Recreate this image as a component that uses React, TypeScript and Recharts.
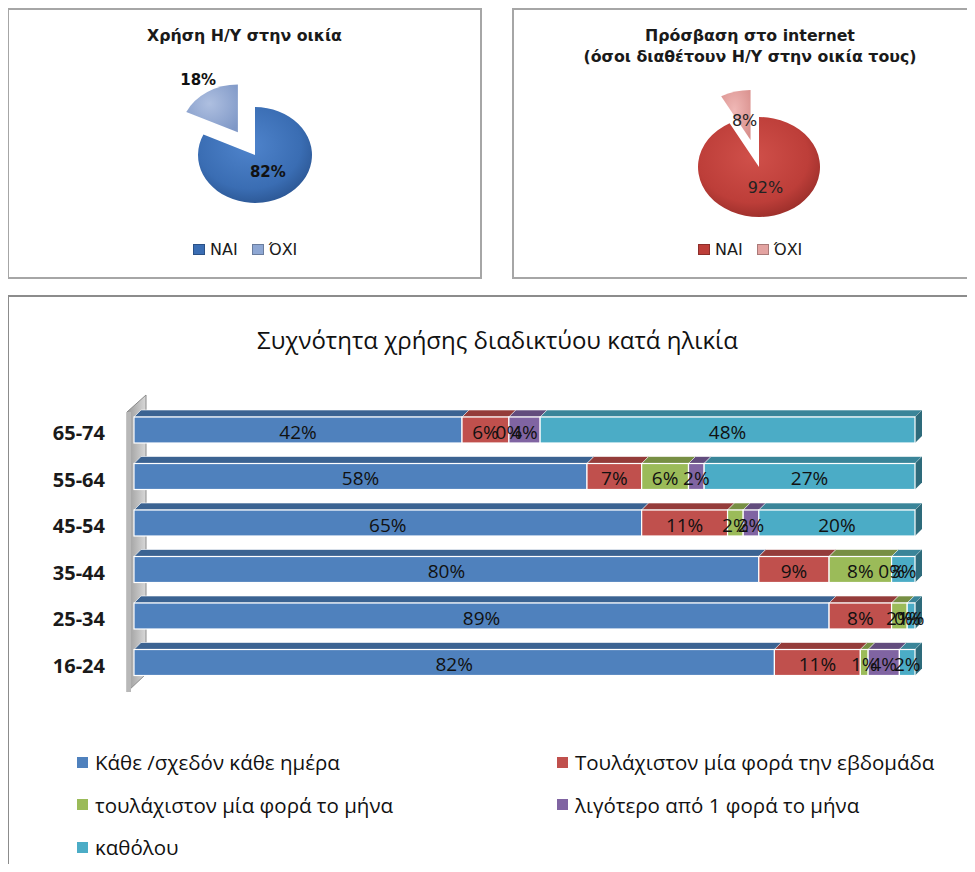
import React from 'react';
import * as R from 'recharts';
import { PieChart, Pie, Cell, BarChart, Bar, XAxis, YAxis, LabelList, Sector } from 'recharts';

// ---------- data ----------
const pieLabels = ['ΝΑΙ', 'ΌΧΙ'];
const pcUseValues = [82, 18];
const netAccessValues = [92, 8];

const ageGroups = ['65-74', '55-64', '45-54', '35-44', '25-34', '16-24'];
const dailyValues = [42, 58, 65, 80, 89, 82];
const weeklyValues = [6, 7, 11, 9, 8, 11];
const monthlyValues = [0, 6, 2, 8, 2, 1];
const lessMonthlyValues = [4, 2, 2, 0, 0, 4];
const neverValues = [48, 27, 20, 3, 1, 2];
const seriesNames = [
  'Κάθε /σχεδόν κάθε ημέρα',
  'Τουλάχιστον μία φορά την εβδομάδα',
  'τουλάχιστον μία φορά το μήνα',
  'λιγότερο από 1 φορά το μήνα',
  'καθόλου',
];

// ---------- derived tables ----------
const pcUseData = pieLabels.map((name, i) => ({ name, value: pcUseValues[i] }));
const netData = pieLabels.map((name, i) => ({ name, value: netAccessValues[i] }));
const seriesKeys = ['daily', 'weekly', 'monthly', 'less', 'never'];
const seriesValues = [dailyValues, weeklyValues, monthlyValues, lessMonthlyValues, neverValues];
const barData = ageGroups.map((age, i) => {
  const row: any = { age };
  seriesKeys.forEach((k, j) => (row[k] = seriesValues[j][i]));
  return row;
});

// ---------- styles ----------
const barColors = [
  { front: '#4f81bd', top: '#3b6392', side: '#2f5077' },
  { front: '#c0504d', top: '#943c3a', side: '#7a302e' },
  { front: '#9bbb59', top: '#778f44', side: '#5f7336' },
  { front: '#8064a2', top: '#624c7d', side: '#4e3d64' },
  { front: '#4bacc6', top: '#3a8599', side: '#2e6b7b' },
];

const usePA: any = (R as any).usePlotArea;

const Wall = () => {
  const plot = usePA ? usePA() : null;
  if (!plot) return null;
  const { x, y, height } = plot;
  const t = 7;
  const d = 12;
  return (
    <g>
      <defs>
        <linearGradient id="wallGrad" x1="0" y1="0" x2="1" y2="0">
          <stop offset="0%" stopColor="#9a9a9a" />
          <stop offset="100%" stopColor="#d8d8d8" />
        </linearGradient>
      </defs>
      <polygon
        points={`${x - t},${y + 5} ${x + d},${y - 12} ${x + d},${y + height - 12} ${x - t},${y + height + 6}`}
        fill="url(#wallGrad)"
        stroke="#8a8a8a"
        strokeWidth={1}
      />
      <rect x={x - t} y={y + 5} width={4} height={height + 1} fill="#b8b8b8" />
    </g>
  );
};

const make3DBar = (c: { front: string; top: string; side: string }) => (props: any) => {
  const { x, y, width, height } = props;
  if (!width || width <= 0.01) return <g />;
  const d = 7;
  return (
    <g>
      <polygon
        points={`${x},${y} ${x + d},${y - d} ${x + width + d},${y - d} ${x + width},${y}`}
        fill={c.top}
        stroke="#ffffff"
        strokeWidth={0.6}
      />
      <polygon
        points={`${x + width},${y} ${x + width + d},${y - d} ${x + width + d},${y + height - d} ${x + width},${y + height}`}
        fill={c.side}
      />
      <rect x={x} y={y} width={width} height={height} fill={c.front} stroke="#ffffff" strokeWidth={1.2} />
    </g>
  );
};

const AgeTick = (props: any) => {
  const { x, y, payload } = props;
  return (
    <text
      x={x}
      y={y}
      dy={10}
      textAnchor="end"
      fontFamily="'Open Sans', sans-serif"
      fontWeight={700}
      fontSize={20}
      fill="#1a1a1a"
    >
      {payload.value}
    </text>
  );
};

const RAD = Math.PI / 180;

const makePieShape = (scaleY: number, explodeName: string, dist: number) => (props: any) => {
  const { cx, cy, midAngle } = props;
  const name = props.name ?? props.payload?.name;
  const ex = name === explodeName ? dist : 0;
  const dx = ex * Math.cos(-midAngle * RAD);
  const dy = ex * Math.sin(-midAngle * RAD) * scaleY;
  return (
    <g transform={`translate(${dx},${dy}) translate(${cx},${cy}) scale(1,${scaleY}) translate(${-cx},${-cy})`}>
      <Sector {...props} />
    </g>
  );
};

const makePieLabel =
  (scaleY: number, explodeName: string, dist: number, rIn: number, rOut: number, style: any) =>
  (props: any) => {
    const { cx, cy, midAngle, value, name } = props;
    const isEx = name === explodeName;
    const ex = isEx ? dist : 0;
    const r = (isEx ? rOut : rIn) + ex;
    const x = cx + r * Math.cos(-midAngle * RAD);
    const y = cy + r * Math.sin(-midAngle * RAD) * scaleY;
    return (
      <text x={x} y={y} textAnchor="middle" dominantBaseline="central" {...style}>
        {`${value}%`}
      </text>
    );
  };

const pieTitleStyle: React.CSSProperties = {
  position: 'absolute',
  fontFamily: "'DejaVu Sans', sans-serif",
  fontWeight: 700,
  fontSize: 15.8,
  color: '#1a1a1a',
  textAlign: 'center',
  lineHeight: '21px',
  whiteSpace: 'nowrap',
};

const PieLegend = ({ left, colors }: { left: number; colors: string[] }) => (
  <div
    style={{
      position: 'absolute',
      left,
      top: 232,
      display: 'flex',
      alignItems: 'center',
      fontFamily: "'DejaVu Sans', sans-serif",
      fontSize: 16,
      color: '#1a1a1a',
      whiteSpace: 'nowrap',
    }}
  >
    {pieLabels.map((l, i) => (
      <span key={l} style={{ display: 'flex', alignItems: 'center', marginRight: 14 }}>
        <span
          style={{
            display: 'inline-block',
            width: 10,
            height: 9,
            background: colors[i],
            border: '1px solid rgba(0,0,0,0.25)',
            marginRight: 5,
          }}
        />
        {l}
      </span>
    ))}
  </div>
);

export default function App() {
  return (
    <div
      style={{
        position: 'relative',
        width: 967,
        height: 864,
        marginBottom: -8,
        overflow: 'hidden',
        background: '#ffffff',
      }}
    >
      {/* boxes */}
      <div style={{ position: 'absolute', left: -1, top: 0, width: 471, height: 267, border: '2px solid #a6a6a6' }} />
      <div style={{ position: 'absolute', left: 504, top: 0, width: 459, height: 267, border: '2px solid #a6a6a6' }} />
      <div style={{ position: 'absolute', left: -1, top: 287, width: 990, height: 600, border: '2px solid #8c8c8c' }} />

      {/* left pie */}
      <div style={{ ...pieTitleStyle, left: 0, width: 473, top: 17 }}>Χρήση Η/Υ στην οικία</div>
      <div style={{ position: 'absolute', left: 0, top: 0 }}>
        <PieChart width={480} height={269}>
          <defs>
            <radialGradient id="pcYes" cx="45%" cy="40%" r="65%">
              <stop offset="0%" stopColor="#4f84cc" />
              <stop offset="70%" stopColor="#3a6db3" />
              <stop offset="100%" stopColor="#2a5490" />
            </radialGradient>
            <radialGradient id="pcNo" cx="45%" cy="40%" r="70%">
              <stop offset="0%" stopColor="#aebfe0" />
              <stop offset="100%" stopColor="#7f98c7" />
            </radialGradient>
          </defs>
          <Pie
            data={pcUseData}
            dataKey="value"
            nameKey="name"
            cx={242}
            cy={142}
            outerRadius={57}
            startAngle={90}
            endAngle={-270}
            stroke="none"
            isAnimationActive={false}
            labelLine={false}
            shape={makePieShape(0.84, 'ΌΧΙ', 32)}
            label={makePieLabel(0.84, 'ΌΧΙ', 32, 24, 74, {
              fontFamily: "'DejaVu Sans', sans-serif",
              fontWeight: 700,
              fontSize: 15,
              fill: '#111',
            })}
          >
            <Cell fill="url(#pcYes)" />
            <Cell fill="url(#pcNo)" />
          </Pie>
        </PieChart>
      </div>
      <PieLegend left={185} colors={['#3a6db3', '#8ea7d3']} />

      {/* right pie */}
      <div style={{ ...pieTitleStyle, left: 505, width: 474, top: 17 }}>
        Πρόσβαση στο internet
        <br />
        (όσοι διαθέτουν Η/Υ στην οικία τους)
      </div>
      <div style={{ position: 'absolute', left: 505, top: 0 }}>
        <PieChart width={462} height={269}>
          <defs>
            <radialGradient id="netYes" cx="45%" cy="40%" r="65%">
              <stop offset="0%" stopColor="#d0504a" />
              <stop offset="70%" stopColor="#bd3e39" />
              <stop offset="100%" stopColor="#962c28" />
            </radialGradient>
            <radialGradient id="netNo" cx="45%" cy="40%" r="70%">
              <stop offset="0%" stopColor="#f0b8b6" />
              <stop offset="100%" stopColor="#d88f8c" />
            </radialGradient>
          </defs>
          <Pie
            data={netData}
            dataKey="value"
            nameKey="name"
            cx={241}
            cy={154}
            outerRadius={61}
            startAngle={90}
            endAngle={-270}
            stroke="none"
            isAnimationActive={false}
            labelLine={false}
            shape={makePieShape(0.82, 'ΌΧΙ', 34)}
            label={makePieLabel(0.82, 'ΌΧΙ', 34, 26, 24, {
              fontFamily: "'DejaVu Sans', sans-serif",
              fontSize: 16,
              fill: '#222',
            })}
          >
            <Cell fill="url(#netYes)" />
            <Cell fill="url(#netNo)" />
          </Pie>
        </PieChart>
      </div>
      <PieLegend left={690} colors={['#bd3e39', '#e3a3a1']} />

      {/* bar chart */}
      <div
        style={{
          position: 'absolute',
          left: 0,
          width: 979,
          top: 315,
          textAlign: 'center',
          fontFamily: "'Open Sans', sans-serif",
          fontSize: 24,
          color: '#111',
          whiteSpace: 'nowrap',
        }}
      >
        Συχνότητα χρήσης διαδικτύου κατά ηλικία
      </div>
      <div style={{ position: 'absolute', left: 0, top: 288 }}>
        <BarChart
          width={967}
          height={566}
          data={barData}
          layout="vertical"
          margin={{ top: 111, right: 60, bottom: 176, left: 66 }}
          barCategoryGap={0}
        >
          <Wall />
          <XAxis type="number" domain={[0, 100]} hide />
          <YAxis
            type="category"
            dataKey="age"
            width={60}
            axisLine={false}
            tickLine={false}
            tickSize={6}
            tickMargin={23}
            tick={<AgeTick />}
          />
          {seriesKeys.map((k, i) => (
            <Bar
              key={k}
              dataKey={k}
              name={seriesNames[i]}
              stackId="a"
              barSize={26}
              fill={barColors[i].front}
              isAnimationActive={false}
              shape={make3DBar(barColors[i])}
            >
              <LabelList
                dataKey={k}
                position="center"
                formatter={(v: any) => `${v}%`}
                style={{ fontFamily: "'Open Sans', sans-serif", fontSize: 19, fill: '#111' }}
                dy={2}
              />
            </Bar>
          ))}
        </BarChart>
      </div>

      {/* bar legend */}
      {seriesNames.map((n, i) => {
        const col = i % 2;
        const row = Math.floor(i / 2);
        return (
          <div
            key={n}
            style={{
              position: 'absolute',
              left: col === 0 ? 69 : 549,
              top: 741 + row * 42.5,
              height: 26,
              display: 'flex',
              alignItems: 'center',
              fontFamily: "'Open Sans', sans-serif",
              fontSize: 20.5,
              color: '#111',
              whiteSpace: 'nowrap',
            }}
          >
            <span style={{ display: 'inline-block', width: 11, height: 11, background: barColors[i].front, marginRight: 7 }} />
            {n}
          </div>
        );
      })}
    </div>
  );
}
